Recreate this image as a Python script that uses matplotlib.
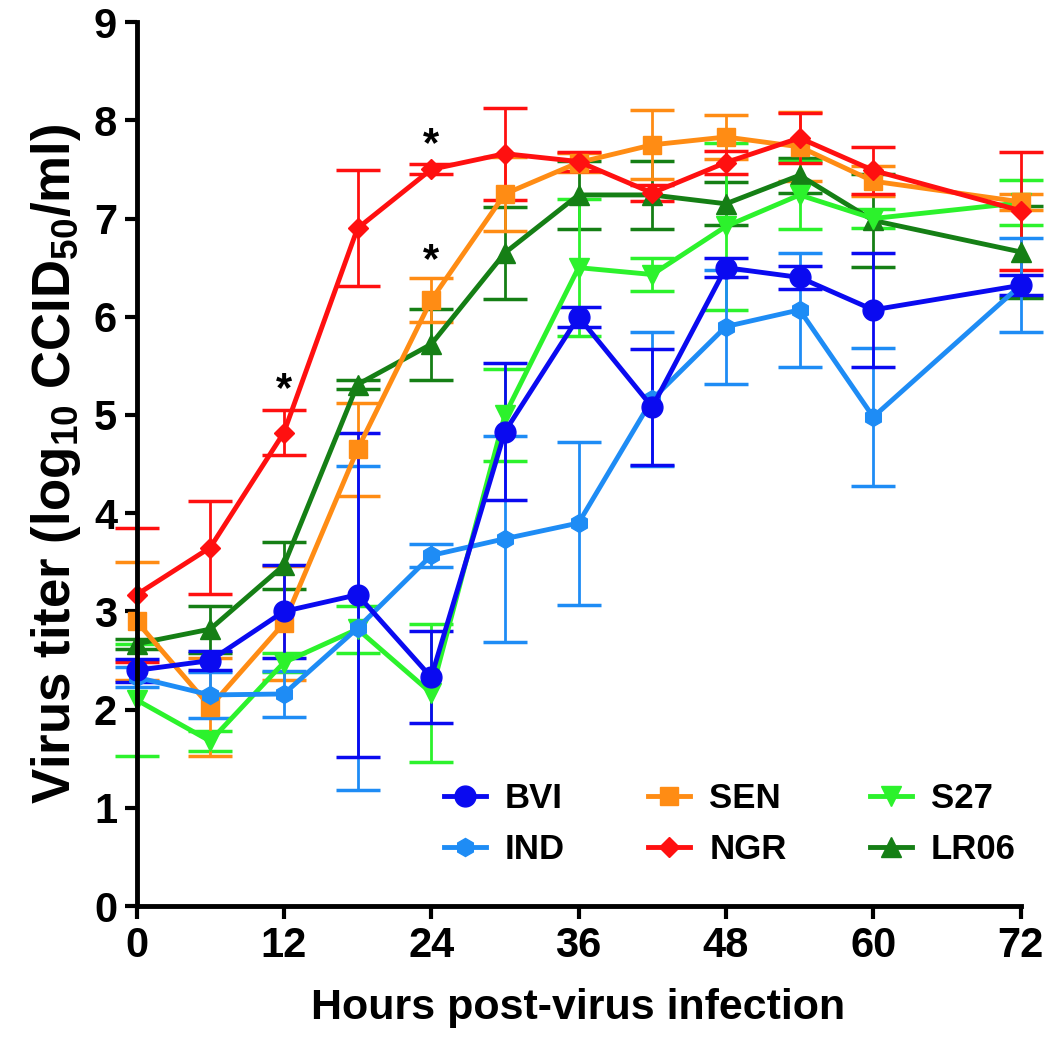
import matplotlib
matplotlib.use("Agg")
import matplotlib.pyplot as plt

plt.rcParams['font.family'] = ['Liberation Sans', 'DejaVu Sans']
plt.rcParams['font.weight'] = 'bold'
plt.rcParams['mathtext.fontset'] = 'custom'
plt.rcParams['mathtext.rm'] = 'Liberation Sans:bold'
plt.rcParams['mathtext.default'] = 'rm'

# data
hours = [0, 6, 12, 18, 24, 30, 36, 42, 48, 54, 60, 72]

bvi = [2.40, 2.50, 3.00, 3.17, 2.33, 4.83, 6.00, 5.08, 6.50, 6.40, 6.07, 6.32]
bvi_err = [0.12, 0.10, 0.47, 1.65, 0.47, 0.70, 0.10, 0.59, 0.10, 0.12, 0.58, 0.10]

ind = [2.33, 2.15, 2.16, 2.83, 3.57, 3.74, 3.90, 5.16, 5.90, 6.07, 4.98, 6.32]
ind_err = [0.10, 0.23, 0.23, 1.65, 0.12, 1.05, 0.83, 0.68, 0.58, 0.58, 0.70, 0.48]

sen = [2.90, 2.03, 2.88, 4.65, 6.17, 7.25, 7.57, 7.75, 7.83, 7.73, 7.38, 7.17]
sen_err = [0.60, 0.50, 0.58, 0.47, 0.22, 0.38, 0.10, 0.35, 0.22, 0.35, 0.15, 0.08]

ngr = [3.17, 3.65, 4.82, 6.90, 7.50, 7.66, 7.58, 7.26, 7.57, 7.82, 7.49, 7.08]
ngr_err = [0.68, 0.47, 0.23, 0.59, 0.05, 0.47, 0.10, 0.08, 0.12, 0.25, 0.24, 0.60]

s27 = [2.10, 1.68, 2.48, 2.82, 2.17, 5.00, 6.50, 6.43, 6.92, 7.24, 7.00, 7.16]
s27_err = [0.57, 0.10, 0.10, 0.24, 0.70, 0.47, 0.70, 0.17, 0.85, 0.35, 0.10, 0.23]

lr06 = [2.67, 2.82, 3.47, 5.31, 5.72, 6.65, 7.24, 7.24, 7.15, 7.44, 6.98, 6.66]
lr06_err = [0.05, 0.24, 0.24, 0.05, 0.36, 0.47, 0.35, 0.35, 0.22, 0.18, 0.47, 0.47]

# name, values, errors, colour, marker, marker size
series = [
    ('LR06', lr06, lr06_err, '#157f15', '^', 15),
    ('S27', s27, s27_err, '#2cf22c', 'v', 15),
    ('SEN', sen, sen_err, '#ff8c14', 's', 13),
    ('NGR', ngr, ngr_err, '#ff1010', 'D', 10),
    ('IND', ind, ind_err, '#1e8cf5', 'h', 13),
    ('BVI', bvi, bvi_err, '#0a0af0', 'o', 15),
]

fig = plt.figure(figsize=(10.5, 10.5), dpi=100)
ax = fig.add_axes([0.13, 0.137, 0.842, 0.842])

handles = {}
for name, vals, errs, col, mk, ms in series:
    eb = ax.errorbar(hours, vals, yerr=errs, color=col, marker=mk, markersize=ms,
                     linewidth=3.5, elinewidth=2, capsize=16, capthick=2.5,
                     clip_on=False, label=name)
    for art in eb.lines[1] + eb.lines[2]:
        art.set_clip_on(False)
    handles[name] = eb[0]

# significance marks
ax.text(12, 5.25, '*', ha='center', va='center', fontsize=30)
ax.text(24, 7.75, '*', ha='center', va='center', fontsize=30)
ax.text(24, 6.57, '*', ha='center', va='center', fontsize=30)

ax.set_xlim(0, 72)
ax.set_ylim(0, 9)
ax.set_xticks([0, 12, 24, 36, 48, 60, 72])
ax.set_yticks(range(0, 10))
ax.tick_params(labelsize=30, width=3, length=9, pad=5)
for lab in ax.get_xticklabels() + ax.get_yticklabels():
    lab.set_fontweight('bold')
for s in ['top', 'right']:
    ax.spines[s].set_visible(False)
for s in ['left', 'bottom']:
    ax.spines[s].set_linewidth(3.5)

ax.set_xlabel('Hours post-virus infection', fontsize=31, fontweight='bold', labelpad=16)
ax.set_ylabel('Virus titer (log$_{10}$ CCID$_{50}$/ml)', fontsize=38, fontweight='bold', labelpad=8)

order = ['BVI', 'IND', 'SEN', 'NGR', 'S27', 'LR06']
leg = ax.legend([handles[n] for n in order], order, ncol=3, loc='lower right',
                bbox_to_anchor=(1.01, 0.03), borderaxespad=0, frameon=False,
                fontsize=25, handlelength=1.2, handletextpad=0.55,
                columnspacing=2.4, labelspacing=0.5)
for t in leg.get_texts():
    t.set_fontweight('bold')

fig.savefig('out.png', dpi=100)
